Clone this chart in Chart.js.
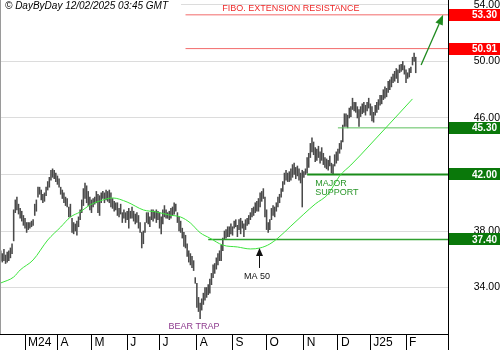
<!DOCTYPE html>
<html>
<head>
<meta charset="utf-8">
<script src="https://cdn.jsdelivr.net/npm/chart.js@4.4.1/dist/chart.umd.min.js"></script>
<style>
  html, body { margin: 0; padding: 0; background: #fff; }
</style>
</head>
<body>
<canvas id="priceChart" width="500" height="350"></canvas>
<script>
// daily bars (low / high), one per trading day, 9 Feb 2024 -> 11 Feb 2025
const lows = [
  35.9, 35.8, 35.9, 35.7, 35.8, 35.9, 36.1, 36.4, 37.3, 39.3, 39.5, 39.2, 38.9, 38.7, 38.4, 38.2, 37.9, 38.1, 38.2, 38.3,
  38.4, 39.1, 39.4, 40.4, 40.6, 40.2, 40.0, 40.1, 40.5, 40.9, 41.1, 41.6, 41.8, 41.7, 41.5, 41.3, 41.1, 40.6, 40.3, 40.0,
  39.8, 39.7, 39.0, 39.0, 37.9, 37.8, 38.0, 37.7, 38.3, 38.8, 39.3, 39.8, 40.3, 40.0, 39.8, 39.5, 39.3, 39.7, 39.9, 40.0,
  39.3, 39.1, 40.0, 40.3, 40.0, 40.2, 40.1, 40.0, 39.7, 39.6, 39.4, 39.5, 39.1, 39.0, 39.2, 38.6, 38.9, 38.6, 38.8, 38.2,
  38.9, 38.9, 38.7, 38.5, 38.6, 38.2, 37.9, 36.8, 37.1, 37.9, 38.6, 38.5, 38.3, 38.8, 38.7, 38.9, 38.6, 38.8, 38.2, 37.8,
  38.5, 39.0, 38.9, 38.9, 38.8, 38.9, 39.1, 39.2, 39.4, 38.6, 38.0, 37.9, 37.5, 36.9, 36.8, 36.2, 35.8, 35.6, 35.4, 35.2,
  34.3, 32.6, 32.3, 31.8, 32.4, 32.8, 33.1, 33.3, 33.5, 33.6, 34.2, 34.7, 35.0, 35.3, 35.6, 35.9, 35.9, 36.6, 37.4, 37.5,
  37.6, 37.6, 37.8, 37.7, 38.2, 38.3, 37.6, 38.1, 37.8, 38.2, 37.6, 38.1, 38.4, 38.5, 38.8, 39.0, 39.1, 39.3, 39.4, 39.4,
  39.7, 40.1, 40.3, 39.0, 38.1, 37.9, 38.1, 38.8, 39.1, 39.0, 39.4, 39.7, 40.0, 40.4, 40.8, 41.3, 41.6, 41.5, 41.5, 41.6,
  41.8, 42.0, 41.7, 41.9, 41.6, 41.4, 39.7, 41.8, 42.0, 42.1, 42.5, 43.2, 43.6, 43.4, 42.9, 43.0, 43.2, 42.8, 43.0, 42.7,
  42.5, 42.4, 42.3, 42.6, 42.1, 42.0, 42.6, 42.8, 43.0, 43.5, 43.8, 44.3, 45.4, 45.4, 45.3, 46.0, 46.1, 46.6, 46.5, 46.4,
  46.0, 45.4, 46.1, 46.3, 46.4, 46.2, 46.5, 46.7, 46.2, 45.8, 45.7, 46.2, 46.4, 46.6, 46.9, 47.0, 47.3, 47.4, 47.5, 47.8,
  48.0, 48.2, 48.5, 48.6, 48.8, 48.5, 49.2, 49.3, 49.4, 49.1, 48.5, 48.8, 48.9, 49.2, 49.75, 50.0, 49.2
];
const highs = [
  36.6, 36.4, 36.7, 36.3, 36.5, 36.6, 36.8, 37.1, 39.5, 40.2, 40.4, 39.9, 39.6, 39.4, 39.1, 38.9, 38.6, 38.6, 38.6, 38.7,
  38.8, 39.9, 40.2, 41.1, 41.1, 40.9, 40.6, 40.7, 41.1, 41.5, 41.8, 42.3, 42.4, 42.3, 42.1, 41.9, 41.7, 41.1, 40.9, 40.7,
  40.4, 40.3, 39.7, 39.9, 38.9, 38.6, 38.5, 38.7, 39.0, 39.5, 40.2, 41.0, 41.4, 41.2, 40.8, 40.4, 40.2, 40.3, 40.4, 40.8,
  40.6, 40.5, 40.7, 40.8, 40.7, 40.9, 40.8, 40.9, 40.7, 40.3, 40.1, 40.0, 40.0, 39.6, 39.9, 39.3, 39.5, 39.3, 39.4, 39.6,
  39.4, 39.7, 39.4, 39.2, 39.3, 39.1, 38.6, 37.9, 38.0, 38.6, 39.3, 39.3, 39.0, 39.5, 39.5, 39.4, 39.5, 39.4, 39.3, 39.0,
  39.5, 39.8, 39.5, 39.3, 39.4, 39.6, 39.7, 40.0, 39.9, 39.3, 39.0, 38.7, 38.2, 37.9, 37.7, 37.1, 36.6, 36.4, 36.2, 35.9,
  34.7, 34.3, 33.3, 32.9, 33.2, 33.6, 34.0, 34.0, 34.2, 34.6, 35.0, 35.6, 35.7, 36.1, 36.4, 36.6, 37.0, 37.5, 38.0, 38.1,
  38.3, 38.3, 38.5, 38.3, 38.7, 38.8, 38.4, 38.8, 38.9, 38.7, 38.5, 38.8, 38.9, 39.1, 39.3, 39.6, 39.7, 40.0, 40.1, 40.3,
  40.7, 40.8, 41.0, 40.4, 39.5, 38.6, 38.8, 39.6, 39.8, 39.7, 40.0, 40.4, 40.6, 41.0, 41.5, 42.1, 42.3, 42.1, 42.2, 42.4,
  42.7, 42.8, 42.5, 42.6, 42.4, 42.1, 42.3, 42.2, 42.4, 43.2, 43.5, 44.2, 44.6, 44.3, 43.9, 43.8, 44.0, 43.6, 43.9, 43.5,
  43.2, 43.1, 43.0, 43.3, 42.8, 42.7, 43.4, 43.6, 43.8, 44.2, 44.4, 45.5, 46.3, 46.3, 46.2, 46.7, 46.8, 47.4, 47.1, 47.1,
  46.8, 46.6, 46.8, 47.0, 47.1, 46.9, 47.1, 47.4, 47.0, 46.8, 46.4, 46.9, 47.1, 47.3, 47.6, 47.6, 48.0, 48.2, 48.1, 48.6,
  48.7, 48.9, 49.1, 49.3, 49.5, 49.4, 49.75, 49.8, 50.0, 49.7, 49.4, 49.2, 49.5, 49.6, 50.3, 50.6, 50.3
];

// 50-day moving average (bar index, value)
const maDays = [0, 8, 12, 20, 29, 37, 43, 49, 55, 61, 69, 78, 88, 96, 104, 111, 117, 123, 129, 137,
  146, 154, 160, 166, 171, 179, 187, 194, 202, 209, 216, 222, 230, 238, 246, 254];
const maValues = [34.32, 34.74, 35.24, 35.95, 37.36, 38.28, 38.99, 39.35, 39.84, 40.12, 40.34, 40.05, 39.49, 39.35, 39.13, 38.99, 38.57, 37.88, 37.50, 37.00,
  36.87, 36.73, 36.80, 37.08, 37.50, 38.35, 39.20, 39.91, 40.62, 41.89, 42.67, 43.38, 44.37, 45.36, 46.35, 47.35];

// month axis
const monthLabels = ['M24', 'A', 'M', 'J', 'J', 'A', 'S', 'O', 'N', 'D', 'J25', 'F'];
const monthStarts = [15, 35, 56, 78, 98, 121, 143, 164, 187, 208, 228, 250];
const yTicks = [34, 38, 42, 46, 50, 54];

// horizontal levels and the bar index they start from
const levelValues = [53.30, 50.91, 45.30, 42.00, 37.40];
const levelFrom = [114, 114, 208, 189, 128];

const FONT = '"Liberation Sans", Arial, Helvetica, sans-serif';
Chart.defaults.font.family = FONT;

const levelColors = ['#f26a6a', '#f26a6a', '#5cbf5c', '#1a8c1a', '#2f9f2f'];
const levelWidths = [1, 1, 1, 2, 1.5];
const boxColors = ['#ff0000', '#ff0000', '#0a780a', '#0a780a', '#0a780a'];
const X_MAX = 275.9;

const bars = lows.map((lo, i) => ({ x: i, y: [lo, highs[i]] }));
const ma = maDays.map((d, i) => ({ x: d, y: maValues[i] }));

const levelSets = levelValues.map((v, i) => ({
  type: 'line',
  data: [{ x: levelFrom[i], y: v }, { x: X_MAX, y: v }],
  borderColor: levelColors[i],
  borderWidth: levelWidths[i],
  pointRadius: 0,
  order: 2
}));

function arrow(ctx, x1, y1, x2, y2, color, lw, headLen, headW) {
  const ang = Math.atan2(y2 - y1, x2 - x1);
  const bx = x2 - headLen * Math.cos(ang), by = y2 - headLen * Math.sin(ang);
  ctx.strokeStyle = color;
  ctx.fillStyle = color;
  ctx.lineWidth = lw;
  ctx.beginPath();
  ctx.moveTo(x1, y1);
  ctx.lineTo(bx, by);
  ctx.stroke();
  ctx.beginPath();
  ctx.moveTo(x2, y2);
  ctx.lineTo(bx + headW / 2 * Math.sin(ang), by - headW / 2 * Math.cos(ang));
  ctx.lineTo(bx - headW / 2 * Math.sin(ang), by + headW / 2 * Math.cos(ang));
  ctx.closePath();
  ctx.fill();
}

const overlay = {
  id: 'overlay',
  afterDraw(chart) {
    const { ctx, chartArea: a, scales: { x, y } } = chart;
    ctx.save();

    // frame bits
    ctx.strokeStyle = '#9a9a9a';
    ctx.lineWidth = 1;
    ctx.beginPath();
    ctx.moveTo(0.5, a.top);
    ctx.lineTo(0.5, a.bottom);
    ctx.stroke();
    ctx.strokeStyle = '#000';
    ctx.beginPath();
    ctx.moveTo(a.right + 0.5, a.bottom);
    ctx.lineTo(a.right + 0.5, chart.height);
    ctx.stroke();

    // header
    ctx.fillStyle = '#fff';
    ctx.fillRect(a.left + 1, 0, 180, 12);
    ctx.fillStyle = '#000';
    ctx.font = 'italic 10px ' + FONT;
    ctx.textAlign = 'left';
    ctx.textBaseline = 'middle';
    ctx.fillText('\u00a9 DayByDay 12/02/2025 03:45 GMT', 5, 6.5);

    // annotations
    ctx.font = '9px ' + FONT;
    ctx.textAlign = 'center';
    ctx.fillStyle = '#ee2a2a';
    ctx.fillText('FIBO. EXTENSION RESISTANCE', x.getPixelForValue(179), y.getPixelForValue(53.30) - 6.5);

    ctx.textAlign = 'left';
    ctx.fillStyle = '#2a962a';
    ctx.fillText('MAJOR', x.getPixelForValue(194), y.getPixelForValue(41.35));
    ctx.fillText('SUPPORT', x.getPixelForValue(194), y.getPixelForValue(40.70));

    ctx.textAlign = 'center';
    ctx.fillStyle = '#8e3b8e';
    ctx.fillText('BEAR TRAP', x.getPixelForValue(119.3), y.getPixelForValue(31.27));

    ctx.fillStyle = '#111';
    ctx.fillText('MA 50', x.getPixelForValue(158.1), y.getPixelForValue(34.78));

    const ax = Math.round(x.getPixelForValue(159.3)) + 0.5;
    const ay = y.getPixelForValue(36.80);
    arrow(ctx, ax, ay + 20, ax, ay, '#111', 1, 8, 7);

    arrow(ctx, x.getPixelForValue(259.3), y.getPixelForValue(49.75),
      x.getPixelForValue(272.9), y.getPixelForValue(53.30), '#1f8a1f', 1.3, 10, 8);

    // level value boxes on the price axis
    ctx.font = 'bold 10px ' + FONT;
    ctx.textAlign = 'right';
    levelValues.forEach((v, i) => {
      const yp = y.getPixelForValue(v);
      ctx.fillStyle = boxColors[i];
      ctx.fillRect(a.right + 1, Math.round(yp) - 6, chart.width - a.right - 1, 12);
      ctx.fillStyle = '#fff';
      ctx.fillText(v.toFixed(2), chart.width - 3, yp + 0.5);
    });

    ctx.restore();
  }
};

new Chart(document.getElementById('priceChart'), {
  type: 'bar',
  data: {
    datasets: [
      {
        type: 'bar',
        data: bars,
        backgroundColor: '#4a4a4a',
        barThickness: 0.9,
        grouped: false,
        order: 3
      },
      {
        type: 'line',
        data: ma,
        borderColor: '#3de43d',
        borderWidth: 1,
        pointRadius: 0,
        cubicInterpolationMode: 'monotone',
        order: 1
      },
      ...levelSets
    ]
  },
  options: {
    responsive: false,
    animation: false,
    events: [],
    layout: { padding: 0 },
    plugins: { legend: { display: false }, tooltip: { enabled: false } },
    scales: {
      x: {
        type: 'linear',
        min: -0.43,
        max: X_MAX,
        offset: false,
        afterBuildTicks: (s) => { s.ticks = monthStarts.map((v) => ({ value: v })); },
        afterFit: (s) => { s.height = 16; s.paddingLeft = 0; s.paddingRight = 0; },
        grid: { drawOnChartArea: false, drawTicks: true, tickLength: 16, color: '#000', offset: false },
        border: { color: '#000' },
        ticks: {
          callback: (v, i) => monthLabels[i],
          align: 'start',
          labelOffset: 3,
          padding: -15,
          autoSkip: false,
          maxRotation: 0,
          color: '#000',
          font: { size: 12 }
        }
      },
      y: {
        position: 'right',
        min: 30.71,
        max: 54.35,
        afterBuildTicks: (s) => { s.ticks = yTicks.map((v) => ({ value: v })); },
        afterFit: (s) => { s.width = 52; s.paddingTop = 0; s.paddingBottom = 0; },
        grid: { color: '#dcdcdc', drawTicks: false },
        border: { color: '#000' },
        ticks: {
          callback: (v) => v.toFixed(2),
          crossAlign: 'far',
          padding: 20,
          color: '#000',
          font: { size: 10.5 }
        }
      }
    }
  },
  plugins: [overlay]
});
</script>
</body>
</html>
